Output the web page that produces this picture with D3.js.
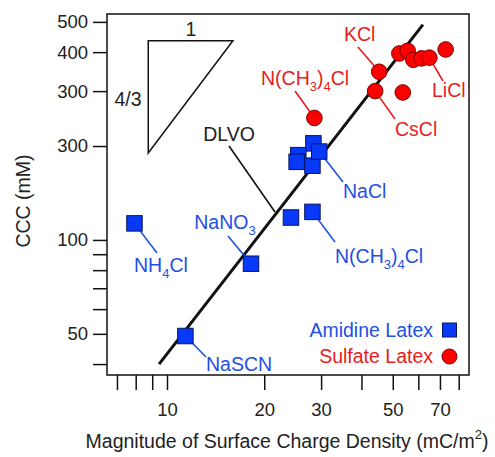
<!DOCTYPE html>
<html><head><meta charset="utf-8">
<script src="https://cdn.jsdelivr.net/npm/d3@7"></script>
<style>body{margin:0;background:#fff}text{font-family:"Liberation Sans",Arial,sans-serif}</style>
</head><body>
<script>
// ---- data ----
const amidineNames = ["NH4Cl","NaSCN","NaNO3","a","N(CH3)4Cl","NaCl1","NaCl2","NaCl3","NaCl4","NaCl5"];
const amidineX = [7.93, 11.4, 18.2, 24.2, 28.2, 28.4, 25.5, 25.2, 28.2, 29.6];
const amidineY = [113, 49.2, 83.9, 118, 123, 204, 187, 178, 173, 192];
const sulfateX = [28.6, 45.4, 44.1, 53.7, 52.4, 55.6, 57.9, 61.4, 64.9, 72.9];
const sulfateY = [246, 346, 300, 297, 396, 404, 378, 382, 384, 408];
const dlvoX = [9.45, 62];
const dlvoY = [40, 490];
const triX = [8.75, 16.0, 8.75];
const triY = [435, 435, 190];
const xTickVals = [7, 8, 9, 10, 20, 30, 40, 50, 60, 70, 80];
const xTickLabels = ["", "", "", "10", "20", "30", "", "50", "", "70", ""];
const yTickVals = [500, 400, 300, 200, 100, 90, 80, 70, 60, 50, 40];
const yTickLabels = ["500", "400", "300", "300", "100", "", "", "", "", "50", ""];

const W = 495, H = 457;
const L = 107, R = 469, T = 14, B = 375;
const x = d3.scaleLog().domain([6.52, 86.1]).range([L, R]);
const y = d3.scaleLog().domain([36.9, 530]).range([B, T]);

const FS = "19.5px", SUB = "13px";
const BLUE_T = "#1d50e4", RED_T = "#e81c1c";
const svg = d3.select("body").append("svg").attr("width", W).attr("height", H);

// axes
const xAxis = d3.axisBottom(x).tickValues(xTickVals).tickSize(15).tickPadding(13)
  .tickFormat((d, i) => xTickLabels[i]);
const gx = svg.append("g").attr("transform", `translate(0,${B})`).call(xAxis);
const yAxis = d3.axisLeft(y).tickValues(yTickVals).tickSize(14).tickPadding(5)
  .tickFormat((d, i) => yTickLabels[i]);
const gy = svg.append("g").attr("transform", `translate(${L},0)`).call(yAxis);
[gx, gy].forEach(g => {
  g.select(".domain").remove();
  g.selectAll(".tick line").attr("stroke", "#111").attr("stroke-width", 1.5);
  g.selectAll(".tick text").attr("fill", "#222").style("font-size", "18.5px");
});

// frame
svg.append("rect").attr("x", L).attr("y", T).attr("width", R - L).attr("height", B - T)
  .attr("fill", "none").attr("stroke", "#111").attr("stroke-width", 1.5);

// axis titles
const xt = svg.append("text").attr("x", 287).attr("y", 448).attr("text-anchor", "middle")
  .attr("fill", "#222").style("font-size", FS);
xt.append("tspan").text("Magnitude of Surface Charge Density (mC/m");
xt.append("tspan").attr("dy", -9).style("font-size", SUB).text("2");
xt.append("tspan").attr("dy", 9).text(")");
svg.append("text").attr("transform", "translate(30,201) rotate(-90)").attr("text-anchor", "middle")
  .attr("fill", "#222").style("font-size", FS).text("CCC (mM)");

// helper for labels with subscripts: "_3" style
function label(str, px, py, color, anchor) {
  const t = svg.append("text").attr("x", px).attr("y", py).attr("fill", color)
    .attr("text-anchor", anchor || "start").style("font-size", FS);
  const parts = str.split(/(_\d)/);
  let shifted = false;
  parts.forEach(p => {
    if (!p) return;
    if (p[0] === "_") {
      t.append("tspan").attr("dy", 6).style("font-size", SUB).text(p.slice(1));
      shifted = true;
    } else {
      t.append("tspan").attr("dy", shifted ? -6 : 0).text(p);
      shifted = false;
    }
  });
  return t;
}
function leader(x1, y1, x2, y2, color) {
  svg.append("line").attr("x1", x1).attr("y1", y1).attr("x2", x2).attr("y2", y2)
    .attr("stroke", color).attr("stroke-width", 1.6);
}

// slope triangle
svg.append("path")
  .attr("d", d3.line()(triX.map((d, i) => [x(d), y(triY[i])])) + "Z")
  .attr("fill", "none").attr("stroke", "#111").attr("stroke-width", 1.5);
svg.append("text").attr("x", 191).attr("y", 36).attr("text-anchor", "middle").attr("fill", "#222")
  .style("font-size", FS).text("1");
svg.append("text").attr("x", 128).attr("y", 106).attr("text-anchor", "middle").attr("fill", "#222")
  .style("font-size", FS).text("4/3");

// DLVO line
svg.append("line").attr("x1", x(dlvoX[0])).attr("y1", y(dlvoY[0]))
  .attr("x2", x(dlvoX[1])).attr("y2", y(dlvoY[1]))
  .attr("stroke", "#111").attr("stroke-width", 3);
svg.append("text").attr("x", 229).attr("y", 141).attr("text-anchor", "middle").attr("fill", "#222")
  .style("font-size", FS).text("DLVO");
leader(229, 146, 275, 212, "#111");

// leader lines (blue)
leader(x(amidineX[0]), y(amidineY[0]), 157, 253, BLUE_T);
leader(x(amidineX[1]), y(amidineY[1]), 206, 357, BLUE_T);
leader(228, 236, x(amidineX[2]), y(amidineY[2]), BLUE_T);
leader(x(amidineX[4]), y(amidineY[4]), 335, 242, BLUE_T);
leader(x(amidineX[9]), y(amidineY[9]), 343, 182, BLUE_T);
// leader lines (red)
leader(295, 91, x(sulfateX[0]), y(sulfateY[0]), RED_T);
leader(358, 47, x(sulfateX[1]), y(sulfateY[1]), RED_T);
leader(x(sulfateX[2]), y(sulfateY[2]), 395, 119, RED_T);
leader(x(sulfateX[8]), y(sulfateY[8]), 443, 81, RED_T);

// squares
const S = 15.5;
svg.append("g").selectAll("rect").data(amidineX).join("rect")
  .attr("x", (d) => x(d) - S / 2).attr("y", (d, i) => y(amidineY[i]) - S / 2)
  .attr("width", S).attr("height", S)
  .attr("fill", "#0838f8").attr("stroke", "#0a1560").attr("stroke-width", 1);
// circles
svg.append("g").selectAll("circle").data(sulfateX).join("circle")
  .attr("cx", (d) => x(d)).attr("cy", (d, i) => y(sulfateY[i])).attr("r", 7.8)
  .attr("fill", "#ff0000").attr("stroke", "#7a0000").attr("stroke-width", 1);

// labels
label("NH_4Cl", 134, 272, BLUE_T);
label("NaSCN", 206, 371, BLUE_T);
label("NaNO_3", 225, 229, BLUE_T, "middle");
label("N(CH_3)_4Cl", 335, 263, BLUE_T);
label("NaCl", 343, 198, BLUE_T);
label("N(CH_3)_4Cl", 261, 85, RED_T);
label("KCl", 344, 41, RED_T);
label("CsCl", 395, 136, RED_T);
label("LiCl", 432, 97, RED_T);

// legend
svg.append("text").attr("x", 433).attr("y", 337).attr("text-anchor", "end").attr("fill", BLUE_T)
  .style("font-size", FS).text("Amidine Latex");
svg.append("rect").attr("x", 442.5).attr("y", 323).attr("width", 14).attr("height", 14)
  .attr("fill", "#0838f8").attr("stroke", "#0a1560").attr("stroke-width", 1);
svg.append("text").attr("x", 433).attr("y", 363).attr("text-anchor", "end").attr("fill", RED_T)
  .style("font-size", FS).text("Sulfate Latex");
svg.append("circle").attr("cx", 449.5).attr("cy", 356.5).attr("r", 7.5)
  .attr("fill", "#ff0000").attr("stroke", "#7a0000").attr("stroke-width", 1);
</script>
</body></html>
